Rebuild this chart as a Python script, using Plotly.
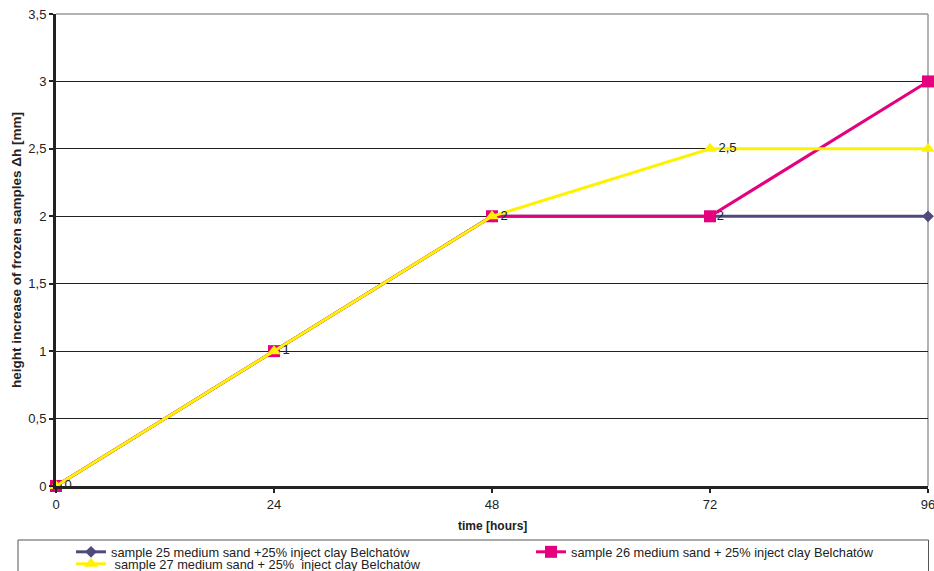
import plotly.graph_objects as go

# elapsed time of freezing [hours]
hours = [0, 24, 48, 72, 96]

# height increase of frozen samples, delta h [mm]
s25 = [0, 1, 2, 2, 2]
s26 = [0, 1, 2, 2, 3]
s27 = [0, 1, 2, 2.5, 2.5]

names = [
    "sample 25 medium sand +25% inject clay Belchatów",
    "sample 26 medium sand + 25% inject clay Belchatów",
    " sample 27 medium sand + 25%  inject clay Belchatów",
]
colors = ["#4e4b7c", "#e5007d", "#fff200"]
y_title = "<b>height increase of frozen samples \u0394h [mm]</b>"
x_title = "<b>time [hours]</b>"

# value labels: series 27 carries the labels, series 25 labels its 72 h point
lbl27 = [f"{v:g}".replace(".", ",") for v in s27]
lbl25 = ["", "", "", f"{s25[3]:g}", ""]

font = "Liberation Sans, Arial, sans-serif"

fig = go.Figure()
fig.add_trace(go.Scatter(
    x=hours, y=s25, name=names[0], mode="lines+markers+text", legend="legend",
    line=dict(color=colors[0], width=3),
    marker=dict(symbol="diamond", size=9, color=colors[0]),
    text=lbl25, textposition="middle right",
    textfont=dict(size=13, color="#222", family=font),
    cliponaxis=False,
))
fig.add_trace(go.Scatter(
    x=hours, y=s26, name=names[1], mode="lines+markers", legend="legend2",
    line=dict(color=colors[1], width=3),
    marker=dict(symbol="square", size=12, color=colors[1]),
    cliponaxis=False,
))
fig.add_trace(go.Scatter(
    x=hours, y=s27, name=names[2], mode="lines+markers+text", legend="legend3",
    line=dict(color=colors[2], width=3),
    marker=dict(symbol="triangle-up", size=12, color=colors[2]),
    text=lbl27, textposition="middle right",
    textfont=dict(size=13, color="#222", family=font),
    cliponaxis=False,
))

W, H = 934, 571
L, R, T, B = 56, 6, 14, 85
pw, ph = W - L - R, H - T - B

def px_x(p):
    return (p - L) / pw

def px_y(p):
    return (H - B - p) / ph

def legend_at(left_px, top_px):
    return dict(
        orientation="v", xref="container", yref="container",
        x=left_px / W, y=1 - top_px / H, xanchor="left", yanchor="top",
        font=dict(size=12.8, family=font, color="#222"),
        bgcolor="rgba(0,0,0,0)", itemwidth=30, tracegroupgap=0,
    )

fig.update_layout(
    width=W, height=H,
    margin=dict(l=L, r=R, t=T, b=B, autoexpand=False),
    paper_bgcolor="white", plot_bgcolor="white",
    separators=",.",
    font=dict(family=font, size=13, color="#222"),
    showlegend=True,
    legend=legend_at(71, 537),
    legend2=legend_at(531, 537),
    legend3=legend_at(71, 549),
    xaxis=dict(
        range=[0, 96], tickvals=hours, showgrid=False, zeroline=False,
        showline=True, linecolor="#222", linewidth=3,
        ticks="outside", ticklen=4, tickwidth=2, tickcolor="#222",
        ticklabeloverflow="allow",
        tickfont=dict(size=13),
    ),
    yaxis=dict(
        range=[0, 3.5], dtick=0.5, showgrid=True, gridcolor="#222", gridwidth=1,
        zeroline=False, showline=True, linecolor="#222", linewidth=3,
        ticks="outside", ticklen=4, tickwidth=2, tickcolor="#222",
        tickfont=dict(size=13),
    ),
    annotations=[
        dict(text=y_title, xref="paper", yref="paper", x=px_x(16), y=0.5,
             textangle=-90, showarrow=False, xanchor="center", yanchor="middle",
             font=dict(size=13.5, family=font, color="#222")),
        dict(text=x_title, xref="paper", yref="paper", x=px_x(492), y=px_y(526),
             showarrow=False, xanchor="center", yanchor="middle",
             font=dict(size=12, family=font, color="#222")),
    ],
    shapes=[
        # grey top and right plot border
        dict(type="line", xref="paper", yref="paper", x0=0, x1=1, y0=1, y1=1,
             line=dict(color="#999", width=1.5), layer="below"),
        dict(type="line", xref="paper", yref="paper", x0=1, x1=1, y0=0, y1=1,
             line=dict(color="#999", width=1.5), layer="below"),
        # legend frame
        dict(type="rect", xref="paper", yref="paper",
             x0=px_x(18), x1=px_x(928.5), y0=px_y(540), y1=px_y(580),
             line=dict(color="#555", width=1)),
    ],
)

fig.write_html("out.html")
